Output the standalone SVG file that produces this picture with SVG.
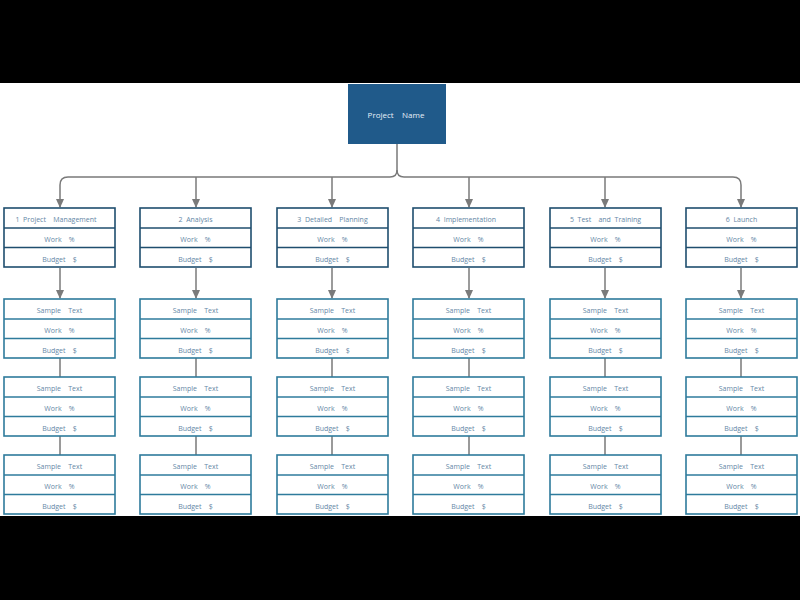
<svg xmlns="http://www.w3.org/2000/svg" width="800" height="600" viewBox="0 0 800 600">
<style>
text{font-family:"Open Sans","Liberation Sans",sans-serif;font-size:7px;fill:#6587a6;text-anchor:middle;white-space:pre}
.l1 rect{fill:#fff;stroke:#1f4e6e;stroke-width:1.6}
.l1 line{stroke:#1f4e6e;stroke-width:1.6}
.l2 rect{fill:#fff;stroke:#2e7b9c;stroke-width:1.6}
.l2 line{stroke:#2e7b9c;stroke-width:1.6}
.c{fill:none;stroke:#7a7a7a;stroke-width:1.5}
</style>
<defs>
<marker id="a" viewBox="0 0 10 10" refX="9" refY="5" markerWidth="9" markerHeight="9" orient="auto" markerUnits="userSpaceOnUse">
<path d="M0,0.5L10,5L0,9.5z" fill="#7a7a7a"/>
</marker>
</defs>
<rect x="0" y="0" width="800" height="600" fill="#000"/>
<rect x="0" y="83" width="800" height="433" fill="#fff"/>

<g id="connectors">
<path class="c" d="M397,144V170Q397,177 390,177H68Q60,177 60,185V207" marker-end="url(#a)"/>
<path class="c" d="M397,170Q397,177 404,177H733Q741,177 741,185V207" marker-end="url(#a)"/>
<path class="c" d="M196,177V207" marker-end="url(#a)"/>
<path class="c" d="M332,177V207" marker-end="url(#a)"/>
<path class="c" d="M469,177V207" marker-end="url(#a)"/>
<path class="c" d="M605,177V207" marker-end="url(#a)"/>
<path class="c" d="M60,268V298" marker-end="url(#a)"/>
<path class="c" d="M196,268V298" marker-end="url(#a)"/>
<path class="c" d="M332,268V298" marker-end="url(#a)"/>
<path class="c" d="M469,268V298" marker-end="url(#a)"/>
<path class="c" d="M605,268V298" marker-end="url(#a)"/>
<path class="c" d="M741,268V298" marker-end="url(#a)"/>
<path class="c" d="M60,358V377M60,436V455"/>
<path class="c" d="M196,358V377M196,436V455"/>
<path class="c" d="M332,358V377M332,436V455"/>
<path class="c" d="M469,358V377M469,436V455"/>
<path class="c" d="M605,358V377M605,436V455"/>
<path class="c" d="M741,358V377M741,436V455"/>
</g>

<g id="root">
<rect x="348" y="84" width="98" height="60" fill="#205a8a"/>
<text x="396" y="118" style="fill:#e8f0f8;font-size:8px">Project    Name</text>
</g>

<g id="n1" class="l1"><rect x="4" y="208" width="111" height="59"/><line x1="4" y1="228" x2="115" y2="228"/><line x1="4" y1="247.5" x2="115" y2="247.5"/>
<text x="56" y="222">1  Project    Management</text><text x="59.5" y="242">Work    %</text><text x="59.5" y="261.5">Budget    $</text></g>
<g id="n2" class="l1"><rect x="140" y="208" width="111" height="59"/><line x1="140" y1="228" x2="251" y2="228"/><line x1="140" y1="247.5" x2="251" y2="247.5"/>
<text x="195.5" y="222">2  Analysis</text><text x="195.5" y="242">Work    %</text><text x="195.5" y="261.5">Budget    $</text></g>
<g id="n3" class="l1"><rect x="277" y="208" width="111" height="59"/><line x1="277" y1="228" x2="388" y2="228"/><line x1="277" y1="247.5" x2="388" y2="247.5"/>
<text x="332.5" y="222">3  Detailed    Planning</text><text x="332.5" y="242">Work    %</text><text x="332.5" y="261.5">Budget    $</text></g>
<g id="n4" class="l1"><rect x="413" y="208" width="111" height="59"/><line x1="413" y1="228" x2="524" y2="228"/><line x1="413" y1="247.5" x2="524" y2="247.5"/>
<text x="466" y="222">4  Implementation</text><text x="468.5" y="242">Work    %</text><text x="468.5" y="261.5">Budget    $</text></g>
<g id="n5" class="l1"><rect x="550" y="208" width="111" height="59"/><line x1="550" y1="228" x2="661" y2="228"/><line x1="550" y1="247.5" x2="661" y2="247.5"/>
<text x="605.5" y="222">5  Test    and  Training</text><text x="605.5" y="242">Work    %</text><text x="605.5" y="261.5">Budget    $</text></g>
<g id="n6" class="l1"><rect x="686" y="208" width="111" height="59"/><line x1="686" y1="228" x2="797" y2="228"/><line x1="686" y1="247.5" x2="797" y2="247.5"/>
<text x="741.5" y="222">6  Launch</text><text x="741.5" y="242">Work    %</text><text x="741.5" y="261.5">Budget    $</text></g>

<g id="s1a" class="l2"><rect x="4" y="299" width="111" height="59"/><line x1="4" y1="319" x2="115" y2="319"/><line x1="4" y1="338.5" x2="115" y2="338.5"/><text x="59.5" y="313">Sample    Text</text><text x="59.5" y="333">Work    %</text><text x="59.5" y="352.5">Budget    $</text></g>
<g id="s1b" class="l2"><rect x="4" y="377" width="111" height="59"/><line x1="4" y1="397" x2="115" y2="397"/><line x1="4" y1="416.5" x2="115" y2="416.5"/><text x="59.5" y="391">Sample    Text</text><text x="59.5" y="411">Work    %</text><text x="59.5" y="430.5">Budget    $</text></g>
<g id="s1c" class="l2"><rect x="4" y="455" width="111" height="59"/><line x1="4" y1="475" x2="115" y2="475"/><line x1="4" y1="494.5" x2="115" y2="494.5"/><text x="59.5" y="469">Sample    Text</text><text x="59.5" y="489">Work    %</text><text x="59.5" y="508.5">Budget    $</text></g>

<g id="s2a" class="l2"><rect x="140" y="299" width="111" height="59"/><line x1="140" y1="319" x2="251" y2="319"/><line x1="140" y1="338.5" x2="251" y2="338.5"/><text x="195.5" y="313">Sample    Text</text><text x="195.5" y="333">Work    %</text><text x="195.5" y="352.5">Budget    $</text></g>
<g id="s2b" class="l2"><rect x="140" y="377" width="111" height="59"/><line x1="140" y1="397" x2="251" y2="397"/><line x1="140" y1="416.5" x2="251" y2="416.5"/><text x="195.5" y="391">Sample    Text</text><text x="195.5" y="411">Work    %</text><text x="195.5" y="430.5">Budget    $</text></g>
<g id="s2c" class="l2"><rect x="140" y="455" width="111" height="59"/><line x1="140" y1="475" x2="251" y2="475"/><line x1="140" y1="494.5" x2="251" y2="494.5"/><text x="195.5" y="469">Sample    Text</text><text x="195.5" y="489">Work    %</text><text x="195.5" y="508.5">Budget    $</text></g>

<g id="s3a" class="l2"><rect x="277" y="299" width="111" height="59"/><line x1="277" y1="319" x2="388" y2="319"/><line x1="277" y1="338.5" x2="388" y2="338.5"/><text x="332.5" y="313">Sample    Text</text><text x="332.5" y="333">Work    %</text><text x="332.5" y="352.5">Budget    $</text></g>
<g id="s3b" class="l2"><rect x="277" y="377" width="111" height="59"/><line x1="277" y1="397" x2="388" y2="397"/><line x1="277" y1="416.5" x2="388" y2="416.5"/><text x="332.5" y="391">Sample    Text</text><text x="332.5" y="411">Work    %</text><text x="332.5" y="430.5">Budget    $</text></g>
<g id="s3c" class="l2"><rect x="277" y="455" width="111" height="59"/><line x1="277" y1="475" x2="388" y2="475"/><line x1="277" y1="494.5" x2="388" y2="494.5"/><text x="332.5" y="469">Sample    Text</text><text x="332.5" y="489">Work    %</text><text x="332.5" y="508.5">Budget    $</text></g>

<g id="s4a" class="l2"><rect x="413" y="299" width="111" height="59"/><line x1="413" y1="319" x2="524" y2="319"/><line x1="413" y1="338.5" x2="524" y2="338.5"/><text x="468.5" y="313">Sample    Text</text><text x="468.5" y="333">Work    %</text><text x="468.5" y="352.5">Budget    $</text></g>
<g id="s4b" class="l2"><rect x="413" y="377" width="111" height="59"/><line x1="413" y1="397" x2="524" y2="397"/><line x1="413" y1="416.5" x2="524" y2="416.5"/><text x="468.5" y="391">Sample    Text</text><text x="468.5" y="411">Work    %</text><text x="468.5" y="430.5">Budget    $</text></g>
<g id="s4c" class="l2"><rect x="413" y="455" width="111" height="59"/><line x1="413" y1="475" x2="524" y2="475"/><line x1="413" y1="494.5" x2="524" y2="494.5"/><text x="468.5" y="469">Sample    Text</text><text x="468.5" y="489">Work    %</text><text x="468.5" y="508.5">Budget    $</text></g>

<g id="s5a" class="l2"><rect x="550" y="299" width="111" height="59"/><line x1="550" y1="319" x2="661" y2="319"/><line x1="550" y1="338.5" x2="661" y2="338.5"/><text x="605.5" y="313">Sample    Text</text><text x="605.5" y="333">Work    %</text><text x="605.5" y="352.5">Budget    $</text></g>
<g id="s5b" class="l2"><rect x="550" y="377" width="111" height="59"/><line x1="550" y1="397" x2="661" y2="397"/><line x1="550" y1="416.5" x2="661" y2="416.5"/><text x="605.5" y="391">Sample    Text</text><text x="605.5" y="411">Work    %</text><text x="605.5" y="430.5">Budget    $</text></g>
<g id="s5c" class="l2"><rect x="550" y="455" width="111" height="59"/><line x1="550" y1="475" x2="661" y2="475"/><line x1="550" y1="494.5" x2="661" y2="494.5"/><text x="605.5" y="469">Sample    Text</text><text x="605.5" y="489">Work    %</text><text x="605.5" y="508.5">Budget    $</text></g>

<g id="s6a" class="l2"><rect x="686" y="299" width="111" height="59"/><line x1="686" y1="319" x2="797" y2="319"/><line x1="686" y1="338.5" x2="797" y2="338.5"/><text x="741.5" y="313">Sample    Text</text><text x="741.5" y="333">Work    %</text><text x="741.5" y="352.5">Budget    $</text></g>
<g id="s6b" class="l2"><rect x="686" y="377" width="111" height="59"/><line x1="686" y1="397" x2="797" y2="397"/><line x1="686" y1="416.5" x2="797" y2="416.5"/><text x="741.5" y="391">Sample    Text</text><text x="741.5" y="411">Work    %</text><text x="741.5" y="430.5">Budget    $</text></g>
<g id="s6c" class="l2"><rect x="686" y="455" width="111" height="59"/><line x1="686" y1="475" x2="797" y2="475"/><line x1="686" y1="494.5" x2="797" y2="494.5"/><text x="741.5" y="469">Sample    Text</text><text x="741.5" y="489">Work    %</text><text x="741.5" y="508.5">Budget    $</text></g>
</svg>
